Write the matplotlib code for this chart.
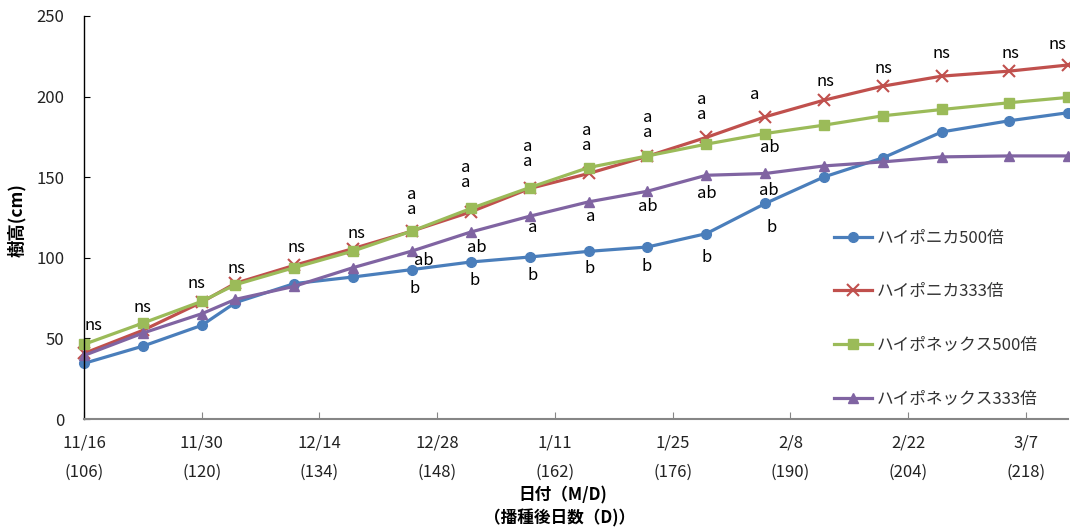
import matplotlib
matplotlib.use("Agg")
import matplotlib.pyplot as plt

plt.rcParams['font.family'] = ['Noto Sans CJK JP', 'DejaVu Sans']

# ---- data ----
days = [106, 113, 120, 124, 131, 138, 145, 152, 159, 166, 173, 180, 187, 194, 201, 208, 216, 223]
hyponica500 = [34.5, 45.2, 58.1, 72.2, 84.0, 88.1, 92.7, 97.4, 100.5, 104.0, 106.7, 115.0, 133.7, 150.2, 162.0, 178.1, 185.0, 190.0]
hyponica333 = [40.7, 55.0, 72.5, 84.2, 95.3, 105.7, 116.6, 128.5, 143.0, 152.3, 163.0, 174.7, 187.5, 197.8, 206.5, 212.7, 215.8, 219.6]
hyponex500 = [46.3, 59.5, 73.0, 83.3, 93.9, 104.2, 116.6, 130.6, 143.6, 156.0, 163.2, 170.5, 177.1, 182.3, 188.1, 192.0, 196.2, 199.5]
hyponex333 = [39.4, 53.3, 65.3, 74.2, 82.3, 93.9, 104.2, 116.0, 125.8, 134.7, 141.3, 151.2, 152.3, 157.0, 159.5, 162.6, 163.2, 163.2]

series_names = ['ハイポニカ500倍', 'ハイポニカ333倍', 'ハイポネックス500倍', 'ハイポネックス333倍']

tick_days = [106, 120, 134, 148, 162, 176, 190, 204, 218]
tick_dates = ['11/16', '11/30', '12/14', '12/28', '1/11', '1/25', '2/8', '2/22', '3/7']

# significance letters: (day, height, text)
sig_labels = [
    (107.1, 58.1, 'ns'), (113.0, 69.3, 'ns'), (119.4, 84.2, 'ns'), (124.1, 93.5, 'ns'),
    (131.3, 106.5, 'ns'), (138.4, 115.2, 'ns'),
    (145.0, 134.5, 'a\na'), (146.4, 98.4, 'ab'), (145.3, 81.1, 'b'),
    (151.4, 151.2, 'a\na'), (152.7, 106.5, 'ab'), (152.4, 86.0, 'b'),
    (158.8, 164.2, 'a\na'), (159.3, 118.9, 'a'), (159.4, 89.1, 'b'),
    (165.8, 174.2, 'a\na'), (166.3, 125.8, 'a'), (166.1, 93.5, 'b'),
    (173.0, 182.6, 'a\na'), (173.0, 132.0, 'ab'), (172.9, 94.7, 'b'),
    (179.4, 193.4, 'a\na'), (180.1, 140.1, 'ab'), (180.0, 100.3, 'b'),
    (185.8, 201.6, 'a'), (187.6, 168.6, 'ab'), (187.4, 141.9, 'ab'), (187.8, 118.9, 'b'),
    (194.1, 209.6, 'ns'), (201.0, 217.7, 'ns'), (208.0, 227.0, 'ns'), (216.1, 227.0, 'ns'),
    (221.8, 232.6, 'ns'),
]

# ---- figure ----
W, H = 1070, 531
fig = plt.figure(figsize=(W / 100, H / 100), dpi=100)
ax = fig.add_axes([84 / W, 1 - 419 / H, (1068 - 84) / W, (419 - 16) / H])

colors = ['#4A7EBB', '#C0504D', '#9BBB59', '#8064A2']
styles = [
    dict(marker='o', markersize=7),
    dict(marker='x', markersize=9, markeredgewidth=1.5),
    dict(marker='s', markersize=7),
    dict(marker='^', markersize=7.5),
]
for vals, name, c, st in zip([hyponica500, hyponica333, hyponex500, hyponex333], series_names, colors, styles):
    ax.plot(days, vals, color=c, linewidth=2.3, label=name, clip_on=False, **st)

for d, v, t in sig_labels:
    ax.text(d, v, t, ha='center', va='center', fontsize=12, color='black', linespacing=0.85)

ax.set_xlim(106, 223)
ax.set_ylim(0, 250)
ax.set_yticks([0, 50, 100, 150, 200, 250])
ax.tick_params(axis='y', direction='in', length=4, labelsize=12, pad=14, colors='black', labelcolor='#222222')
ax.set_xticks(tick_days)
ax.set_xticklabels([])
ax.tick_params(axis='x', direction='in', length=5, color='#868686')

for d, lab in zip(tick_days, tick_dates):
    ax.text(d, -0.0596, lab, transform=ax.get_xaxis_transform(), ha='center', va='center', fontsize=12, color='#222222')
    ax.text(d, -0.1315, '(%d)' % d, transform=ax.get_xaxis_transform(), ha='center', va='center', fontsize=12, color='#222222')

ax.spines['top'].set_visible(False)
ax.spines['right'].set_visible(False)
ax.spines['left'].set_color('black')
ax.spines['left'].set_linewidth(1.0)
ax.spines['bottom'].set_color('#868686')
ax.spines['bottom'].set_linewidth(1.5)

fig.text(17 / W, 1 - 220 / H, '樹高(cm)', rotation=90, ha='center', va='center', fontsize=12.5, fontweight='bold')
fig.text(563 / W, 1 - 495 / H, '日付（M/D)', ha='center', va='center', fontsize=12, fontweight='bold')
fig.text(560 / W, 1 - 518 / H, '（播種後日数（D)）', ha='center', va='center', fontsize=12, fontweight='bold')

leg = fig.legend(loc='center left', bbox_to_anchor=(834 / W, 1 - 318.5 / H), bbox_transform=fig.transFigure,
                 frameon=False, fontsize=12, labelspacing=2.2, handlelength=2.3, handletextpad=0.25,
                 borderpad=0, borderaxespad=0)
for t in leg.get_texts():
    t.set_color('#333333')

fig.savefig('out.png', dpi=100)
